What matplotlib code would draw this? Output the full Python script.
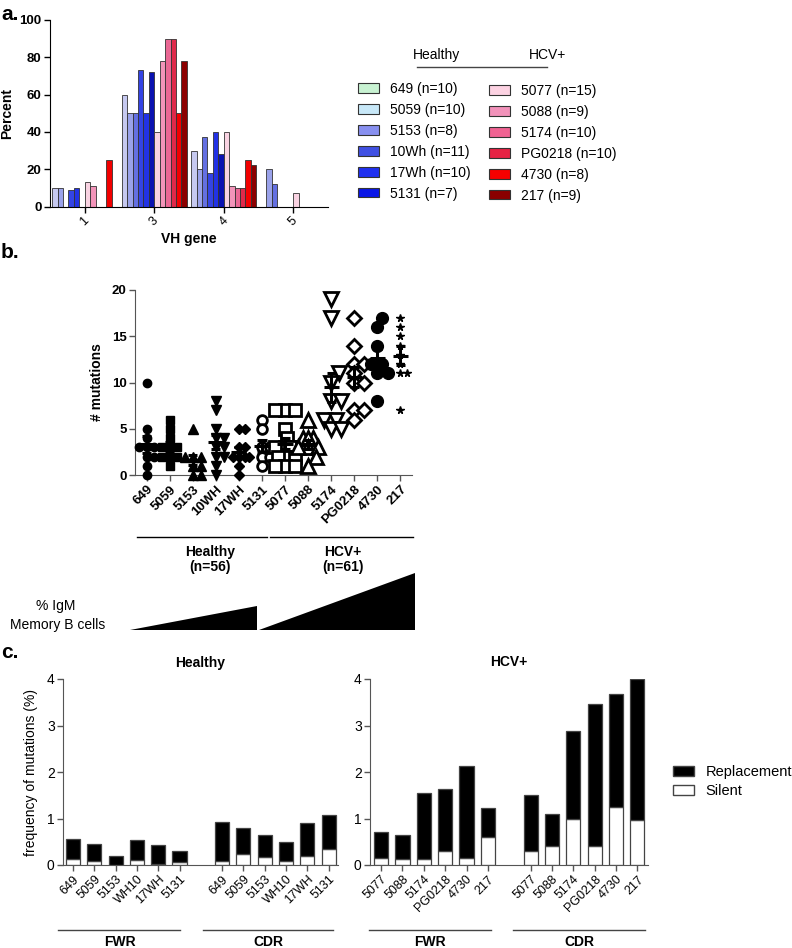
import matplotlib
matplotlib.use('Agg')
import matplotlib.pyplot as plt
import numpy as np
from matplotlib.patches import Patch, Polygon
from matplotlib.lines import Line2D

plt.rcParams['font.family'] = ['Liberation Sans', 'DejaVu Sans']

# ---------------- data: panel a ----------------
vh_genes = ['1', '3', '4', '5']
samples_a = ['649', '5059', '5153', '10Wh', '17Wh', '5131',
             '5077', '5088', '5174', 'PG0218', '4730', '217']
sample_n = [10, 10, 8, 11, 10, 7, 15, 9, 10, 10, 8, 9]
vh1 = [10, 10, 0, 9, 10, 0, 13, 11, 0, 0, 25, 0]
vh3 = [60, 50, 50, 73, 50, 72, 40, 78, 90, 90, 50, 78]
vh4 = [30, 20, 37, 18, 40, 28, 40, 11, 10, 10, 25, 22]
vh5 = [0, 20, 12, 0, 0, 0, 7, 0, 0, 0, 0, 0]
bar_colors = ['#c6c9f0', '#9aa2ea', '#6470e2', '#3444e4', '#2232e6', '#0a12b0',
              '#f9d3e2', '#f294b9', '#ea6794', '#e0294a', '#f20000', '#8c0000']
legend_colors = ['#c8f2d2', '#c8e8f8', '#8890f0', '#4050e2', '#2030f0', '#0a16e6',
                 '#fcd2e2', '#f292ba', '#f06292', '#e62244', '#f60000', '#8a0000']

# ---------------- data: panel b ----------------
cats_b = ['649', '5059', '5153', '10WH', '17WH', '5131',
          '5077', '5088', '5174', 'PG0218', '4730', '217']
m649 = [10, 5, 4, 3, 3, 3, 2, 2, 1, 0]
m5059 = [6, 5, 4, 3, 3, 3, 2, 2, 2, 1]
m5153 = [5, 2, 2, 2, 1, 1, 0, 0]
m10wh = [8, 7, 5, 4, 4, 3, 3, 2, 2, 1, 0]
m17wh = [5, 5, 3, 3, 2, 2, 2, 2, 1, 0]
m5131 = [6, 5, 3, 3, 2, 2, 1]
m5077 = [7, 7, 7, 5, 4, 3, 3, 3, 3, 2, 2, 2, 1, 1, 1]
m5088 = [6, 4, 4, 4, 3, 3, 3, 2, 1]
m5174 = [19, 17, 11, 10, 8, 8, 6, 6, 5, 5]
mpg0218 = [17, 14, 12, 12, 11, 10, 10, 7, 7, 6]
m4730 = [17, 16, 14, 12, 12, 11, 11, 8]
m217 = [17, 16, 15, 14, 13, 12, 11, 11, 7]
groups_b = [m649, m5059, m5153, m10wh, m17wh, m5131,
            m5077, m5088, m5174, mpg0218, m4730, m217]

# ---------------- data: panel c ----------------
cats_c_healthy = ['649', '5059', '5153', 'WH10', '17WH', '5131']
cats_c_hcv = ['5077', '5088', '5174', 'PG0218', '4730', '217']
h_fwr_total = [0.55, 0.46, 0.19, 0.53, 0.43, 0.30]
h_fwr_silent = [0.12, 0.08, 0.01, 0.10, 0.02, 0.07]
h_cdr_total = [0.92, 0.80, 0.65, 0.49, 0.90, 1.08]
h_cdr_silent = [0.08, 0.24, 0.18, 0.09, 0.19, 0.35]
v_fwr_total = [0.72, 0.65, 1.55, 1.64, 2.13, 1.22]
v_fwr_silent = [0.14, 0.13, 0.12, 0.30, 0.15, 0.60]
v_cdr_total = [1.50, 1.10, 2.88, 3.47, 3.68, 4.00]
v_cdr_silent = [0.30, 0.40, 1.00, 0.40, 1.24, 0.96]

# ---------------- figure ----------------
W, H = 792, 948
fig = plt.figure(figsize=(W / 100, H / 100), dpi=100)


def px_axes(x0, y0, x1, y1):
    return fig.add_axes([x0 / W, 1 - y1 / H, (x1 - x0) / W, (y1 - y0) / H])


def fx(x):
    return x / W


def fy(y):
    return 1 - y / H


def ftext(x, y, s, **kw):
    fig.text(fx(x), fy(y), s, **kw)


def fline(x0, x1, y, color='black', lw=1.0):
    fig.add_artist(Line2D([fx(x0), fx(x1)], [fy(y), fy(y)], color=color, lw=lw,
                          transform=fig.transFigure))


# ===== panel a =====
ax_a = px_axes(50, 20, 328, 206.5)
bw = 0.078
gene_vals = [vh1, vh3, vh4, vh5]
x_genes = np.arange(len(vh_genes))
for i in range(len(samples_a)):
    heights = np.array([g[i] for g in gene_vals], dtype=float)
    xs = x_genes + (i - 5.5) * bw
    mask = heights > 0
    ax_a.bar(xs[mask], heights[mask], width=bw, color=bar_colors[i],
             edgecolor='#333333', linewidth=0.6, align='center')
ax_a.set_xlim(-0.5, 3.5)
ax_a.set_ylim(0, 100)
ax_a.set_yticks([0, 20, 40, 60, 80, 100])
ax_a.set_xticks(x_genes)
ax_a.set_xticklabels(vh_genes, rotation=45, fontsize=9)
for lab in ax_a.get_yticklabels():
    lab.set_fontweight('bold')
    lab.set_fontsize(9.5)
ax_a.spines['top'].set_visible(False)
ax_a.spines['right'].set_visible(False)
ax_a.tick_params(axis='both', direction='out', length=4, width=1, pad=2)
ax_a.set_ylabel('Percent', fontsize=10, fontweight='bold', labelpad=4)
ax_a.set_xlabel('VH gene', fontsize=10, fontweight='bold', labelpad=3)

# legend of panel a
labels_a = ['%s (n=%d)' % (s, n) for s, n in zip(samples_a, sample_n)]
h1 = [Patch(facecolor=legend_colors[i], edgecolor='#333333', linewidth=0.8) for i in range(6)]
h2 = [Patch(facecolor=legend_colors[i], edgecolor='#333333', linewidth=0.8) for i in range(6, 12)]
leg_kw = dict(frameon=False, fontsize=10, handlelength=1.5, handleheight=0.65,
              handletextpad=0.8, labelspacing=0.5, borderpad=0, borderaxespad=0,
              loc='upper left')
leg1 = ax_a.legend(h1, labels_a[:6], bbox_to_anchor=(fx(358), fy(82)),
                   bbox_transform=fig.transFigure, **leg_kw)
ax_a.add_artist(leg1)
leg2 = ax_a.legend(h2, labels_a[6:], bbox_to_anchor=(fx(489), fy(84)),
                   bbox_transform=fig.transFigure, **leg_kw)
ftext(437, 55, 'Healthy', fontsize=10, ha='center', va='center')
ftext(548, 55, 'HCV+', fontsize=10, ha='center', va='center')
fline(417, 547, 67, color='#444444', lw=1)

ftext(1, 14, 'a.', fontsize=15, fontweight='bold', ha='left', va='center')

# ===== panel b =====
ax_b = px_axes(135, 290, 412, 475)
XPX = 277.0 / 12.0   # pixels per category unit
YPX = 185.0 / 20.0   # pixels per mutation
marker_specs = [
    dict(marker='o', s=6, fill=True),
    dict(marker='s', s=6, fill=True),
    dict(marker='^', s=6.5, fill=True),
    dict(marker='v', s=6.5, fill=True),
    dict(marker='D', s=5, fill=True),
    dict(marker='o', s=7, fill=False),
    dict(marker='s', s=8, fill=False),
    dict(marker='^', s=10, fill=False),
    dict(marker='v', s=10, fill=False),
    dict(marker='D', s=7.5, fill=False),
    dict(marker='o', s=8.5, fill=True),
    dict(marker='*', s=5.5, fill=True),
]


def beeswarm(vals, diam_px, max_off=0.45, step=0.02):
    vals = np.asarray(vals, dtype=float)
    order = np.argsort(vals, kind='stable')
    xs = np.zeros(len(vals))
    placed = []
    cands = [0.0]
    k = 1
    while k * step <= max_off + 1e-9:
        cands += [k * step, -k * step]
        k += 1
    for idx in order:
        y = vals[idx] * YPX
        best, best_d = 0.0, -1.0
        for c in cands:
            if placed:
                d = min(np.hypot(c * XPX - px, y - py) for px, py in placed)
            else:
                d = 1e9
            if d >= diam_px:
                best = c
                break
            if d > best_d:
                best, best_d = c, d
        xs[idx] = best
        placed.append((best * XPX, y))
    return xs


for i, vals in enumerate(groups_b):
    spec = marker_specs[i]
    diam = spec['s'] * 100 / 72.0 * 0.85
    offs = beeswarm(vals, diam)
    ax_b.plot(i + offs, vals, linestyle='none', marker=spec['marker'],
              markersize=spec['s'],
              markerfacecolor='black' if spec['fill'] else 'white',
              markeredgecolor='black', markeredgewidth=1.0 if spec['fill'] else 2.0,
              clip_on=False, zorder=3)
    arr = np.asarray(vals, dtype=float)
    mean = arr.mean()
    sem = arr.std(ddof=1) / np.sqrt(len(arr))
    ax_b.plot([i - 0.33, i + 0.33], [mean, mean], color='black', lw=2.2, zorder=4,
              solid_capstyle='butt')
    ax_b.plot([i, i], [mean - sem, mean + sem], color='black', lw=2.2, zorder=4,
              solid_capstyle='butt')
    for yv in (mean - sem, mean + sem):
        ax_b.plot([i - 0.2, i + 0.2], [yv, yv], color='black', lw=2.2, zorder=4,
                  solid_capstyle='butt')

ax_b.set_xlim(-0.5, 11.5)
ax_b.set_ylim(0, 20)
ax_b.set_yticks([0, 5, 10, 15, 20])
ax_b.set_xticks(np.arange(len(cats_b)))
ax_b.set_xticklabels(cats_b, rotation=45, ha='right', rotation_mode='anchor',
                     fontsize=9.5, fontweight='bold')
for lab in ax_b.get_yticklabels():
    lab.set_fontweight('bold')
    lab.set_fontsize(9.5)
for sp in ('top', 'right'):
    ax_b.spines[sp].set_visible(False)
for sp in ('left', 'bottom'):
    ax_b.spines[sp].set_color('#555555')
ax_b.tick_params(axis='both', direction='out', length=4, width=1, color='#555555', pad=2)
ax_b.set_ylabel('# mutations', fontsize=10, fontweight='bold', labelpad=6)

ftext(1, 253, 'b.', fontsize=15, fontweight='bold', ha='left', va='center')

fline(137, 267, 537)
fline(270, 413, 537)
ftext(210, 552, 'Healthy', fontsize=10, fontweight='bold', ha='center', va='center')
ftext(210, 567, '(n=56)', fontsize=10, fontweight='bold', ha='center', va='center')
ftext(343, 552, 'HCV+', fontsize=10, fontweight='bold', ha='center', va='center')
ftext(343, 567, '(n=61)', fontsize=10, fontweight='bold', ha='center', va='center')
fig.add_artist(Polygon([[fx(130), fy(630)], [fx(257), fy(630)], [fx(257), fy(606)]],
                       closed=True, facecolor='black', edgecolor='none',
                       transform=fig.transFigure))
fig.add_artist(Polygon([[fx(259), fy(630)], [fx(415), fy(630)], [fx(415), fy(573)]],
                       closed=True, facecolor='black', edgecolor='none',
                       transform=fig.transFigure))
ftext(56, 606, '% IgM', fontsize=10, ha='center', va='center')
ftext(58, 625, 'Memory B cells', fontsize=10, ha='center', va='center')

# ===== panel c =====
pos_fwr = np.arange(6)
pos_cdr = np.arange(7, 13)


def stacked(ax, tot_f, sil_f, tot_c, sil_c, labels, title, xlim):
    for pos, tot, sil in ((pos_fwr, tot_f, sil_f), (pos_cdr, tot_c, sil_c)):
        tot = np.asarray(tot)
        sil = np.asarray(sil)
        ax.bar(pos, sil, width=0.66, color='white', edgecolor='#444444', linewidth=0.9)
        ax.bar(pos, tot - sil, bottom=sil, width=0.66, color='black',
               edgecolor='#444444', linewidth=0.9)
    ax.set_xlim(*xlim)
    ax.set_ylim(0, 4)
    ax.set_yticks([0, 1, 2, 3, 4])
    ax.set_xticks(np.concatenate([pos_fwr, pos_cdr]))
    ax.set_xticklabels(labels + labels, rotation=45, ha='right',
                       rotation_mode='anchor', fontsize=9)
    for lab in ax.get_yticklabels():
        lab.set_fontsize(10)
    for sp in ('top', 'right'):
        ax.spines[sp].set_visible(False)
    for sp in ('left', 'bottom'):
        ax.spines[sp].set_color('#555555')
    ax.tick_params(axis='both', direction='out', length=4, width=1, color='#555555', pad=2)
    ax.set_title(title, fontsize=10, fontweight='bold', pad=9)


ax_c1 = px_axes(63, 679, 338, 865)
stacked(ax_c1, h_fwr_total, h_fwr_silent, h_cdr_total, h_cdr_silent,
        cats_c_healthy, 'Healthy', (-0.47, 12.44))
ax_c1.set_ylabel('frequency of mutations (%)', fontsize=10, labelpad=6)

ax_c2 = px_axes(370, 679, 648, 865)
stacked(ax_c2, v_fwr_total, v_fwr_silent, v_cdr_total, v_cdr_silent,
        cats_c_hcv, 'HCV+', (-0.52, 12.5))

hc = [Patch(facecolor='black', edgecolor='#444444'), Patch(facecolor='white', edgecolor='#444444')]
ax_c2.legend(hc, ['Replacement', 'Silent'], frameon=False, fontsize=10.5,
             handlelength=1.45, handleheight=0.7, handletextpad=0.8, labelspacing=0.35,
             borderpad=0, borderaxespad=0, loc='upper left',
             bbox_to_anchor=(fx(673), fy(765)), bbox_transform=fig.transFigure)

ftext(1, 653, 'c.', fontsize=15, fontweight='bold', ha='left', va='center')

fline(58, 180, 930, color='#444444')
fline(203, 333, 930, color='#444444')
fline(369, 491, 930, color='#444444')
fline(513, 645, 930, color='#444444')
ftext(120, 942, 'FWR', fontsize=10, fontweight='bold', ha='center', va='center')
ftext(268, 942, 'CDR', fontsize=10, fontweight='bold', ha='center', va='center')
ftext(430, 942, 'FWR', fontsize=10, fontweight='bold', ha='center', va='center')
ftext(579, 942, 'CDR', fontsize=10, fontweight='bold', ha='center', va='center')

fig.savefig('out.png', dpi=100)
